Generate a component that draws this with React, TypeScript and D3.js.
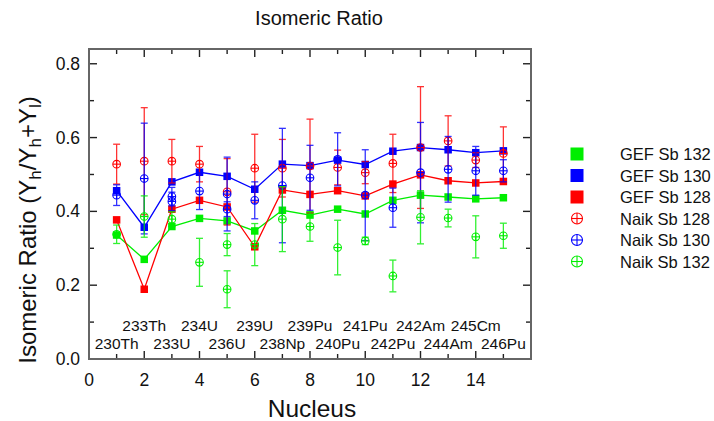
import React from "react";
import * as d3 from "d3";

const W = 714;
const H = 421;

const nuclei = [1, 2, 3, 4, 5, 6, 7, 8, 9, 10, 11, 12, 13, 14, 15];
const nucleusNames = [
  "230Th", "233Th", "233U", "234U", "236U", "239U", "238Np", "239Pu",
  "240Pu", "241Pu", "242Pu", "242Am", "244Am", "245Cm", "246Pu",
];

const gef132 = [0.336, 0.27, 0.359, 0.381, 0.374, 0.347, 0.403, 0.39, 0.406, 0.393, 0.43, 0.444, 0.439, 0.434, 0.437];
const gef130 = [0.456, 0.357, 0.48, 0.506, 0.495, 0.46, 0.528, 0.524, 0.539, 0.527, 0.563, 0.573, 0.567, 0.559, 0.564];
const gef128 = [0.377, 0.189, 0.406, 0.43, 0.412, 0.304, 0.458, 0.446, 0.456, 0.442, 0.474, 0.499, 0.483, 0.477, 0.481];

const naik128X = [1, 2, 3, 4, 5, 6, 7, 8, 9, 10, 11, 12, 13, 14, 15];
const naik128Y = [0.528, 0.536, 0.536, 0.528, 0.453, 0.517, 0.517, 0.523, 0.519, 0.505, 0.53, 0.573, 0.591, 0.539, 0.557];
const naik128E = [0.054, 0.145, 0.059, 0.048, 0.09, 0.092, 0.078, 0.127, 0.047, 0.03, 0.079, 0.165, 0.068, 0.02, 0.072];

const naik130X = [1, 2, 3, 3, 4, 5, 5, 6, 7, 8, 9, 10, 11, 12, 13, 14, 15];
const naik130Y = [0.444, 0.489, 0.44, 0.427, 0.455, 0.447, 0.406, 0.43, 0.47, 0.491, 0.541, 0.444, 0.41, 0.505, 0.514, 0.51, 0.51];
const naik130E = [0.028, 0.15, 0.025, 0.025, 0.05, 0.1, 0.02, 0.05, 0.155, 0.088, 0.072, 0.123, 0.053, 0.136, 0.089, 0.066, 0.03];

const naik132X = [1, 2, 3, 4, 5, 5, 6, 7, 8, 9, 10, 11, 12, 13, 14, 15];
const naik132Y = [0.338, 0.386, 0.379, 0.262, 0.31, 0.189, 0.31, 0.379, 0.359, 0.302, 0.32, 0.225, 0.384, 0.382, 0.331, 0.334];
const naik132E = [0.025, 0.056, 0.02, 0.065, 0.03, 0.05, 0.057, 0.088, 0.04, 0.074, 0.01, 0.043, 0.072, 0.024, 0.057, 0.034];

const xMajorTicks = [0, 2, 4, 6, 8, 10, 12, 14];
const yMajorTicks = [0, 0.2, 0.4, 0.6, 0.8];

const RED = "#ff0000";
const BLUE = "#0000ff";
const GREEN = "#00ee00";

const legendItems = [
  { label: "GEF Sb 132", color: GREEN, kind: "square" },
  { label: "GEF Sb 130", color: BLUE, kind: "square" },
  { label: "GEF Sb 128", color: RED, kind: "square" },
  { label: "Naik Sb 128", color: RED, kind: "circle" },
  { label: "Naik Sb 130", color: BLUE, kind: "circle" },
  { label: "Naik Sb 132", color: GREEN, kind: "circle" },
];

const FONT = "'Liberation Sans', Arial, sans-serif";

const left = 89, right = 531, top = 49, bottom = 359;
const x = d3.scaleLinear().domain([0, 16]).range([left, right]);
const y = d3.scaleLinear().domain([0, 0.84]).range([bottom, top]);

function CircleMark({ cx, cy, color, r }: { cx: number; cy: number; color: string; r: number }) {
  return (
    <g stroke={color} strokeWidth={1.1} fill="none">
      <circle cx={cx} cy={cy} r={r} />
      <line x1={cx - r} x2={cx + r} y1={cy} y2={cy} />
      <line x1={cx} x2={cx} y1={cy - r} y2={cy + r} />
    </g>
  );
}

function NaikSeries({ xs, ys, es, color }: { xs: number[]; ys: number[]; es: number[]; color: string }) {
  return (
    <g>
      {xs.map((xv, i) => {
        const cx = x(xv);
        const y1 = y(ys[i] + es[i]);
        const y2 = y(ys[i] - es[i]);
        return (
          <g key={"e" + i} stroke={color} strokeWidth={1.3} opacity={0.8}>
            <line x1={cx} x2={cx} y1={y1} y2={y2} />
            <line x1={cx - 3.5} x2={cx + 3.5} y1={y1} y2={y1} />
            <line x1={cx - 3.5} x2={cx + 3.5} y1={y2} y2={y2} />
          </g>
        );
      })}
      {xs.map((xv, i) => (
        <CircleMark key={"c" + i} cx={x(xv)} cy={y(ys[i])} color={color} r={3.8} />
      ))}
    </g>
  );
}

function GefSeries({ vals, color }: { vals: number[]; color: string }) {
  const line = d3.line<number>().x((_, i) => x(nuclei[i])).y((d) => y(d));
  const s = 7.5;
  return (
    <g>
      <path d={line(vals) || ""} fill="none" stroke={color} strokeWidth={1.3} />
      {vals.map((v, i) => (
        <rect key={i} x={x(nuclei[i]) - s / 2} y={y(v) - s / 2} width={s} height={s} fill={color} />
      ))}
    </g>
  );
}

export default function App() {
  const xAll = d3.range(0, 17, 1);
  const yAll = d3.range(0, 9, 1).map((d) => d / 10);
  return (
    <svg width={W} height={H} style={{ position: "absolute", left: 0, top: 0, background: "#fff" }} fontFamily={FONT}>
      <rect x={0} y={0} width={W} height={H} fill="#fff" />
      <text x={319} y={25} textAnchor="middle" fontSize={20} fill="#111">Isomeric Ratio</text>

      {/* series */}
      <GefSeries vals={gef132} color={GREEN} />
      <GefSeries vals={gef130} color={BLUE} />
      <GefSeries vals={gef128} color={RED} />
      <NaikSeries xs={naik128X} ys={naik128Y} es={naik128E} color={RED} />
      <NaikSeries xs={naik130X} ys={naik130Y} es={naik130E} color={BLUE} />
      <NaikSeries xs={naik132X} ys={naik132Y} es={naik132E} color={GREEN} />

      {/* nucleus labels */}
      {nuclei.map((n, i) => (
        <text key={n} x={x(n)} y={i % 2 === 0 ? 349 : 331} textAnchor="middle" fontSize={15.5} fill="#111">
          {nucleusNames[i]}
        </text>
      ))}

      {/* ticks */}
      <g stroke="#222" strokeWidth={1.4}>
        {xAll.filter((v) => v > 0 && v < 16).map((v) => {
          const len = v % 2 === 0 ? 8 : 5;
          return (
            <g key={"xt" + v}>
              <line x1={x(v)} x2={x(v)} y1={bottom} y2={bottom - len} />
              <line x1={x(v)} x2={x(v)} y1={top} y2={top + len} />
            </g>
          );
        })}
        {yAll.filter((v) => v > 0).map((v, i) => {
          const len = (i + 1) % 2 === 0 ? 8 : 5;
          return (
            <g key={"yt" + v}>
              <line x1={left} x2={left + len} y1={y(v)} y2={y(v)} />
              <line x1={right} x2={right - len} y1={y(v)} y2={y(v)} />
            </g>
          );
        })}
      </g>
      <rect x={left} y={top} width={right - left} height={bottom - top} fill="none" stroke="#666" strokeWidth={2} />

      {/* tick labels */}
      {xMajorTicks.map((v) => (
        <text key={"xl" + v} x={x(v)} y={386} textAnchor="middle" fontSize={17.5} fill="#111">{v}</text>
      ))}
      {yMajorTicks.map((v) => (
        <text key={"yl" + v} x={80} y={y(v) + 6} textAnchor="end" fontSize={17.5} fill="#111">{v.toFixed(1)}</text>
      ))}

      {/* axis titles */}
      <text x={312} y={417} textAnchor="middle" fontSize={24.5} fill="#111">Nucleus</text>
      <text transform={`translate(36,${230}) rotate(-90)`} textAnchor="middle" fontSize={24} fill="#111">
        Isomeric Ratio (Y
        <tspan fontSize={17} dy={5}>h</tspan>
        <tspan dy={-5}>/Y</tspan>
        <tspan fontSize={17} dy={5}>h</tspan>
        <tspan dy={-5}>+Y</tspan>
        <tspan fontSize={17} dy={5}>l</tspan>
        <tspan dy={-5}>)</tspan>
      </text>

      {/* legend */}
      {legendItems.map((it, i) => {
        const cy = 154 + i * 21.5;
        return (
          <g key={it.label}>
            {it.kind === "square" ? (
              <rect x={577 - 6.5} y={cy - 6.5} width={13} height={13} fill={it.color} />
            ) : (
              <CircleMark cx={577} cy={cy} color={it.color} r={5.5} />
            )}
            <text x={620} y={cy + 6} fontSize={16.5} fill="#111">{it.label}</text>
          </g>
        );
      })}
    </svg>
  );
}
